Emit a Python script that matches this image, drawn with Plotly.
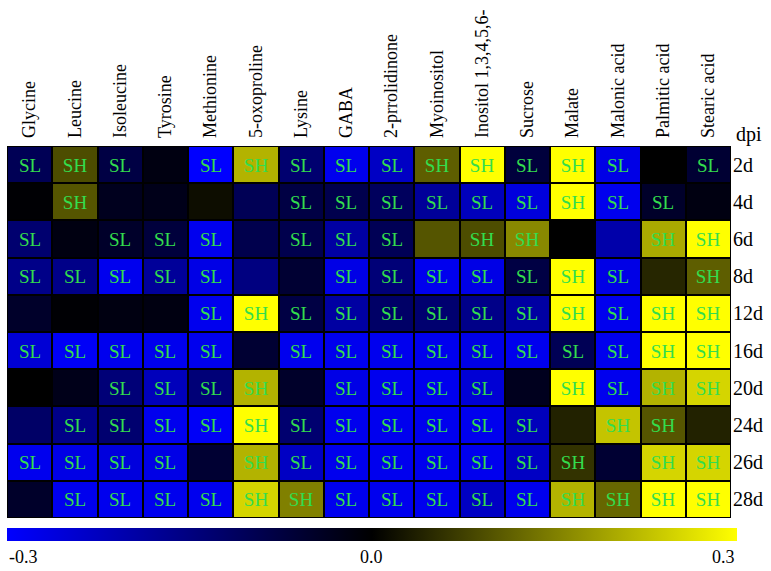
import plotly.graph_objects as go

metabolites = ["Glycine", "Leucine", "Isoleucine", "Tyrosine", "Methionine", "5-oxoproline",
               "Lysine", "GABA", "2-prrolidinone", "Myoinositol", "Inositol 1,3,4,5,6-",
               "Sucrose", "Malate", "Malonic acid", "Palmitic acid", "Stearic acid"]
days = ["2d", "4d", "6d", "8d", "12d", "16d", "20d", "24d", "26d", "28d"]

values = [
    [-0.10, 0.09, -0.08, -0.02, -0.30, 0.21, -0.13, -0.28, -0.23, 0.11, 0.30, -0.07, 0.30, -0.27, 0.00, -0.06],
    [-0.005, 0.10, -0.035, -0.03, 0.015, -0.10, -0.08, -0.09, -0.11, -0.18, -0.22, -0.26, 0.30, -0.28, -0.05, -0.02],
    [-0.13, -0.02, -0.05, -0.07, -0.28, -0.09, -0.09, -0.19, -0.10, 0.10, 0.09, 0.16, 0.00, -0.20, 0.20, 0.30],
    [-0.16, -0.16, -0.28, -0.18, -0.27, -0.15, -0.06, -0.27, -0.14, -0.28, -0.27, -0.08, 0.30, -0.27, 0.045, 0.11],
    [-0.05, -0.005, -0.02, -0.02, -0.28, 0.30, -0.08, -0.19, -0.12, -0.13, -0.16, -0.19, 0.30, -0.28, 0.30, 0.30],
    [-0.25, -0.29, -0.28, -0.28, -0.28, -0.06, -0.28, -0.28, -0.28, -0.28, -0.27, -0.28, -0.10, -0.28, 0.30, 0.30],
    [0.00, -0.03, -0.14, -0.22, -0.14, 0.21, -0.05, -0.27, -0.28, -0.28, -0.25, -0.035, 0.30, -0.28, 0.21, 0.25],
    [-0.12, -0.16, -0.13, -0.28, -0.29, 0.30, -0.13, -0.28, -0.28, -0.28, -0.28, -0.22, 0.04, 0.23, 0.10, 0.04],
    [-0.28, -0.27, -0.26, -0.27, -0.06, 0.21, -0.23, -0.28, -0.28, -0.28, -0.28, -0.23, 0.06, -0.06, 0.25, 0.25],
    [-0.05, -0.28, -0.28, -0.28, -0.28, 0.25, 0.15, -0.28, -0.28, -0.28, -0.23, -0.28, 0.21, 0.12, 0.30, 0.30],
]

labels = [
    ["SL", "SH", "SL", "", "SL", "SH", "SL", "SL", "SL", "SH", "SH", "SL", "SH", "SL", "", "SL"],
    ["", "SH", "", "", "", "", "SL", "SL", "SL", "SL", "SL", "SL", "SH", "SL", "SL", ""],
    ["SL", "", "SL", "SL", "SL", "", "SL", "SL", "SL", "", "SH", "SH", "", "", "SH", "SH"],
    ["SL", "SL", "SL", "SL", "SL", "", "", "SL", "SL", "SL", "SL", "SL", "SH", "SL", "", "SH"],
    ["", "", "", "", "SL", "SH", "SL", "SL", "SL", "SL", "SL", "SL", "SH", "SL", "SH", "SH"],
    ["SL", "SL", "SL", "SL", "SL", "", "SL", "SL", "SL", "SL", "SL", "SL", "SL", "SL", "SH", "SH"],
    ["", "", "SL", "SL", "SL", "SH", "", "SL", "SL", "SL", "SL", "", "SH", "SL", "SH", "SH"],
    ["", "SL", "SL", "SL", "SL", "SH", "SL", "SL", "SL", "SL", "SL", "SL", "", "SH", "SH", ""],
    ["SL", "SL", "SL", "SL", "", "SH", "SL", "SL", "SL", "SL", "SL", "SL", "SH", "", "SH", "SH"],
    ["", "SL", "SL", "SL", "SL", "SH", "SH", "SL", "SL", "SL", "SL", "SL", "SH", "SH", "SH", "SH"],
]

scale_ticks = [-0.3, 0.0, 0.3]
scale_text = ["-0.3", "0.0", "0.3"]

font = "Liberation Serif, Times New Roman, serif"

fig = go.Figure(go.Heatmap(
    z=values, x=metabolites, y=days, text=labels, texttemplate="%{text}",
    textfont=dict(family=font, size=19, color="#33dd4d"),
    zmin=-0.3, zmax=0.3,
    colorscale=[[0, "#0000ff"], [0.5, "#000000"], [1, "#ffff00"]],
    xgap=2, ygap=2, hoverinfo="skip",
    colorbar=dict(orientation="h", x=0.0, xanchor="left", len=1.008, lenmode="fraction",
                  y=-0.027, yanchor="top", thickness=13, outlinewidth=0,
                  xpad=0, ypad=0, showticklabels=False, ticks=""),
))

fig.update_layout(
    width=771, height=571,
    margin=dict(l=7, r=40, t=146, b=53, autoexpand=False),
    paper_bgcolor="white", plot_bgcolor="black",
    font=dict(family=font, size=18, color="black"),
)
fig.update_xaxes(side="top", tickangle=-90, showgrid=False, zeroline=False, automargin=False,
                 tickfont=dict(size=18, family=font), ticks="", ticklabelstandoff=7)
fig.update_yaxes(side="right", autorange="reversed", showgrid=False, zeroline=False, automargin=False,
                 tickfont=dict(size=20, family=font), ticks="", ticklabelstandoff=1)

fig.add_annotation(text="dpi", xref="paper", yref="paper", x=1.0, y=1.0, xanchor="left",
                   yanchor="bottom", xshift=3, yshift=-2, showarrow=False, font=dict(size=20, family=font))
for v, t in zip(scale_ticks, scale_text):
    xa = {-0.3: "left", 0.0: "center", 0.3: "right"}[v]
    fig.add_annotation(text=t, xref="paper", yref="paper", x=(v + 0.3) / 0.6 * 1.008, y=-0.072,
                       xanchor=xa, yanchor="top", showarrow=False, font=dict(size=18, family=font))

fig.write_html("out.html", config={"displayModeBar": False},
               post_script="document.body.style.margin='0';document.body.style.overflow='hidden';")
